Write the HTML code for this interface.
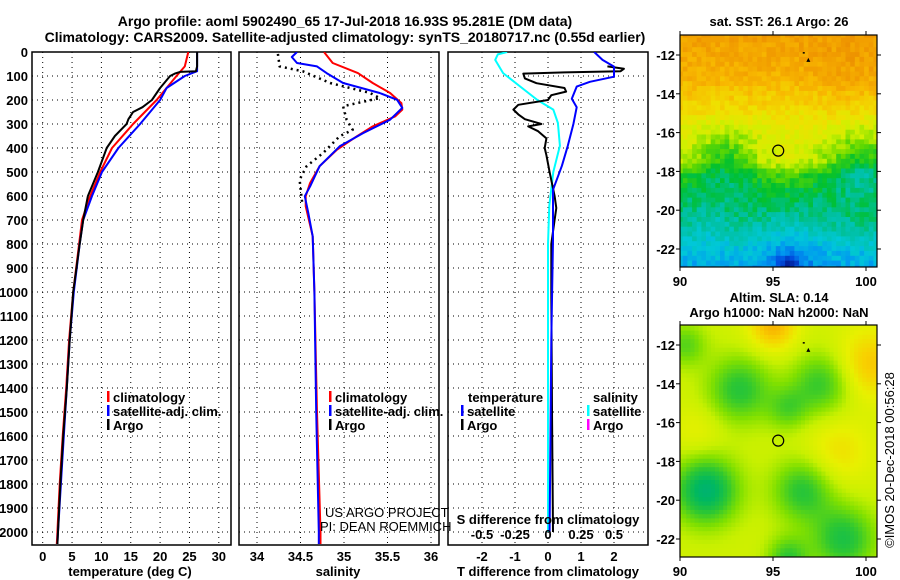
<!DOCTYPE html>
<html><head><meta charset="utf-8">
<style>
html,body{margin:0;padding:0;background:#fff;}
svg{display:block;font-family:"Liberation Sans",Arial,sans-serif;}
.b{font-weight:bold;font-size:13px;}
</style></head>
<body>
<svg id="fig" width="900" height="580" viewBox="0 0 900 580" xmlns="http://www.w3.org/2000/svg">
<text x="345" y="26" text-anchor="middle" font-weight="bold" font-size="14">Argo profile: aoml 5902490_65 17-Jul-2018 16.93S 95.281E (DM data)</text>
<text x="345" y="42" text-anchor="middle" font-weight="bold" font-size="14">Climatology: CARS2009. Satellite-adjusted climatology: synTS_20180717.nc (0.55d earlier)</text>
<g id="root"></g>
</svg>
<script>
// ---------- profile data ----------
const tDepthArgo = [0,60,80,83,90,100,150,200,230,250,280,300,350,400,500,600,700,800,1000,1200,1400,1600,1800,2000,2050];
const tArgo      = [26.3,26.3,26.1,23.4,22.5,21.7,20.0,18.6,17.0,15.4,14.6,14.3,12.3,10.9,9.4,7.7,6.9,6.3,5.2,4.6,4.1,3.5,3.0,2.6,2.5];
const tDepthClim = [0,60,100,200,300,400,500,600,700,800,1000,1200,1400,1600,1800,2000,2050];
const tClim      = [24.8,24.2,22.8,19.4,15.4,11.8,9.8,8.1,6.7,6.2,5.2,4.5,4.0,3.4,2.9,2.5,2.4];
const tDepthSat  = [0,80,100,150,200,300,400,500,600,700,800,1000,1200,1400,1600,1800,2000,2050];
const tSat       = [26.3,26.3,24.2,21.1,20.0,16.6,12.9,10.1,8.4,6.9,6.3,5.3,4.6,4.1,3.6,3.1,2.6,2.5];

const sDepthClim = [0,46,88,129,171,213,240,268,310,351,407,476,546,601,643,768,1000,1500,2000,2050];
const sClim      = [34.77,34.87,35.16,35.33,35.53,35.66,35.67,35.59,35.33,35.15,34.92,34.72,34.61,34.56,34.56,34.64,34.66,34.69,34.73,34.73];
const sDepthSat  = [0,21,46,60,88,129,171,199,233,282,338,393,476,560,601,671,768,1000,1500,2000,2050];
const sSat       = [34.46,34.40,34.46,34.69,34.80,34.99,35.41,35.61,35.67,35.53,35.22,34.95,34.72,34.61,34.55,34.59,34.64,34.66,34.68,34.71,34.71];
const sDepthArgo = [8,60,81,129,171,192,226,282,324,351,421,476,532,601,629];
const sArgo      = [34.24,34.26,34.53,34.84,35.30,35.41,34.99,35.03,35.10,34.95,34.76,34.57,34.49,34.51,34.52];

const dDepthArgoT = [60,70,80,85,90,110,130,150,165,180,200,220,240,260,280,300,310,330,360,400,430,500,600,650,700,800,1000,1500,2000];
const dArgoT      = [1.8,2.3,2.2,0.5,-0.75,-0.7,-0.35,0.5,0.55,0.1,0,-0.9,-1.05,-0.9,-0.7,-0.2,-0.6,-0.3,-0.05,-0.1,-0.05,0.05,0.2,0.25,0.2,0.1,0.1,0.12,0.15];
const dDepthSatT = [0,33,61,103,124,144,195,230,300,391,474,574,783,1200,2000];
const dSatT      = [1.4,1.65,2.0,2.0,1.27,0.87,0.72,0.87,0.77,0.6,0.42,0.15,0.15,0.1,0.05];
const dDepthSatS = [0,10,33,88,144,200,240,296,391,500,640,800,2000];
const dSatS      = [-0.31,-0.38,-0.40,-0.34,-0.21,-0.08,0.04,0.075,0.09,0.04,0.01,0,0];

const tTicks = [0,5,10,15,20,25,30];
const sTicks = [34,34.5,35,35.5,36];
const dTTicks = [-2,-1,0,1,2];
const dSLabels = ['-0.5','-0.25','0','0.25','0.5'];
const depthTicks = [0,100,200,300,400,500,600,700,800,900,1000,1100,1200,1300,1400,1500,1600,1700,1800,1900,2000];
const latTicks = [-12,-14,-16,-18,-20,-22];
const lonTicks = [90,95,100];

// ---------- helpers ----------
const NS='http://www.w3.org/2000/svg';
const root=document.getElementById('root');
function mk(tag,attrs,parent){const e=document.createElementNS(NS,tag);for(const k in attrs)e.setAttribute(k,attrs[k]);(parent||root).appendChild(e);return e;}
function txt(x,y,s,extra,parent){const e=mk('text',Object.assign({x:x,y:y},extra||{}),parent);e.textContent=s;return e;}

const PT=52, PB=545;
const yD=d=>PT+d*0.24;
const panels=[
 {name:'temperature-panel',l:32,r:231,x:v=>42.7+v*5.87},
 {name:'salinity-panel',l:239,r:439,x:v=>257+(v-34)*87},
 {name:'difference-panel',l:448,r:648,x:v=>548+v*33}
];
const xS=v=>548+v*4*33;

panels.forEach((p,pi)=>{
  const g=mk('g',{});
  
  
  const cp=mk('clipPath',{id:'cp'+pi},g);
  mk('rect',{x:p.l,y:PT,width:p.r-p.l,height:PB-PT},cp);
  p.g=g;
  depthTicks.forEach(d=>{const ln=mk('line',{x1:p.l,x2:p.r,y1:yD(d),y2:yD(d),stroke:'#000','stroke-width':1,'stroke-dasharray':'1,4'},g);
    });
  const vt = pi==0?tTicks:(pi==1?sTicks:dTTicks);
  vt.forEach(v=>{const ln=mk('line',{x1:p.x(v),x2:p.x(v),y1:PT,y2:PB,stroke:'#000','stroke-width':1,'stroke-dasharray':'1,4'},g);
    
    const t=txt(p.x(v),561,String(v),{'text-anchor':'middle','class':'b'},g);
    });
  const fr=mk('rect',{x:p.l,y:PT,width:p.r-p.l,height:PB-PT,fill:'none',stroke:'#000','stroke-width':1.5},g);
  
});
depthTicks.forEach(d=>{const t=txt(28,yD(d)+5,String(d),{'text-anchor':'end','class':'b'});
  });

function line(p,depths,vals,xf,color,name,dash,w){
  const pts=depths.map((d,i)=>xf(vals[i]).toFixed(1)+','+yD(d).toFixed(1)).join(' ');
  const a={points:pts,fill:'none',stroke:color,'stroke-width':w||2,'clip-path':'url(#cp'+panels.indexOf(p)+')','stroke-linejoin':'round'};
  if(dash)a['stroke-dasharray']=dash;
  const e=mk('polyline',a,p.g);
  
  
}
const P=panels;
line(P[0],tDepthClim,tClim,P[0].x,'#f00','temp-climatology-line');
line(P[0],tDepthSat,tSat,P[0].x,'#00f','temp-satellite-line');
line(P[0],tDepthArgo,tArgo,P[0].x,'#000','temp-argo-line');
line(P[1],sDepthArgo,sArgo,P[1].x,'#000','salinity-argo-line','2,4',2.5);
line(P[1],sDepthClim,sClim,P[1].x,'#f00','salinity-climatology-line');
line(P[1],sDepthSat,sSat,P[1].x,'#00f','salinity-satellite-line');
line(P[2],dDepthSatS,dSatS,xS,'#0ff','s-diff-satellite-line');
line(P[2],dDepthArgoT,dArgoT,P[2].x,'#000','t-diff-argo-line');
line(P[2],dDepthSatT,dSatT,P[2].x,'#00f','t-diff-satellite-line');

function leg(x,y,color,label,name){
  const g=mk('g',{});
  mk('rect',{x:x,y:y-11,width:2.5,height:11,fill:color},g);
  if(label)txt(x+6,y,label,{'class':'b'},g);
}
leg(107,402,'#f00','climatology','legend-climatology');
leg(107,416,'#00f','satellite-adj. clim.','legend-satellite');
leg(107,430,'#000','Argo','legend-argo');
leg(329,402,'#f00','climatology','legend-sal-climatology');
leg(329,416,'#00f','satellite-adj. clim.','legend-sal-satellite');
leg(329,430,'#000','Argo','legend-sal-argo');
txt(468,402,'temperature',{'class':'b',});
leg(461,416,'#00f','satellite','legend-t-satellite');
leg(461,430,'#000','Argo','legend-t-argo');
txt(593,402,'salinity',{'class':'b',});
leg(587,416,'#0ff','satellite','legend-s-satellite');
leg(587,430,'#f0f','Argo','legend-s-argo');
txt(325,517,'US ARGO PROJECT',{'font-size':13,});
txt(320,531,'PI: DEAN ROEMMICH',{'font-size':13,});
txt(548,524,'S difference from climatology',{'text-anchor':'middle','class':'b',});
dSLabels.forEach((s,i)=>{const t=txt(P[2].x(dTTicks[i]),539,s,{'text-anchor':'middle','class':'b'});
  });
txt(130,576,'temperature (deg C)',{'text-anchor':'middle','class':'b',});
txt(338,576,'salinity',{'text-anchor':'middle','class':'b',});
txt(548,576,'T difference from climatology',{'text-anchor':'middle','class':'b',});

// ---------- maps (image texture) ----------
function gs(lon,lat,cx,cy,r){const d=((lon-cx)**2+(lat-cy)**2)/(r*r);return Math.exp(-d);}
function hash(i,j){const s=Math.sin(i*12.9898+j*78.233)*43758.5453;return s-Math.floor(s);}
function cmap(stops,v){
  if(v<=stops[0][0]){const l=stops[0][1];return 'rgb('+l.join(',')+')';}
  for(let i=1;i<stops.length;i++){if(v<=stops[i][0]){const a=stops[i-1],b=stops[i],f=(v-a[0])/(b[0]-a[0]);
    const c1=a[1],c2=b[1];const r=[0,1,2].map(k=>Math.round(c1[k]+(c2[k]-c1[k])*f));return 'rgb('+r.join(',')+')';}}
  const l=stops[stops.length-1][1];return 'rgb('+l.join(',')+')';
}
function toStops(a){return a.map(s=>[s[0],[parseInt(s[1].substr(1,2),16),parseInt(s[1].substr(3,2),16),parseInt(s[1].substr(5,2),16)]]);}
const sstStops=toStops([[0.1,'#001890'],[0.18,'#0050e0'],[0.26,'#0098f0'],[0.33,'#00c8d8'],[0.4,'#00c0a0'],[0.47,'#00c030'],[0.55,'#60d800'],[0.62,'#d0f000'],[0.7,'#f0e000'],[0.78,'#f8b800'],[0.86,'#f09800'],[0.94,'#e07800']]);
const slaStops=toStops([[0.2,'#00a890'],[0.3,'#00b860'],[0.4,'#30c830'],[0.5,'#80e000'],[0.58,'#c8f000'],[0.66,'#e8f000'],[0.74,'#f8d000'],[0.84,'#f8a000']]);
function interp(xs,ys,x){if(x>=xs[0])return ys[0];for(let i=1;i<xs.length;i++){if(x>=xs[i]){const f=(x-xs[i-1])/(xs[i]-xs[i-1]);return ys[i-1]+(ys[i]-ys[i-1])*f;}}return ys[ys.length-1];}
const latB=[-11,-13,-14.5,-15.5,-16.5,-17.5,-18.2,-19,-20,-21,-22,-23];
const valB=[0.84,0.8,0.73,0.67,0.64,0.6,0.5,0.46,0.44,0.4,0.33,0.28];
function sst(lon,lat){return interp(latB,valB,lat)-0.1*gs(lon,lat,92.5,-17.2,1.5)-0.12*gs(lon,lat,99.8,-17.5,1.6)+0.04*gs(lon,lat,95.5,-17.8,1.3)-0.13*gs(lon,lat,95.8,-22.9,0.6)+0.03*gs(lon,lat,99,-13,2)-0.04*gs(lon,lat,91.5,-20.5,1.2)-0.06*gs(lon,lat,96,-22,2);}
function sla(lon,lat){return 0.6-0.22*gs(lon,lat,93.2,-14.3,1.7)-0.2*gs(lon,lat,97.6,-14,1.6)-0.14*gs(lon,lat,95.8,-15.3,1.1)-0.33*gs(lon,lat,91.4,-19.5,1.7)-0.22*gs(lon,lat,96.6,-19.5,1.6)-0.24*gs(lon,lat,98.8,-22,1.7)-0.2*gs(lon,lat,95.8,-23,1.1)-0.15*gs(lon,lat,90.3,-12,1.1)+0.2*gs(lon,lat,95,-11,1.3)+0.16*gs(lon,lat,100.2,-13,1.8)+0.1*gs(lon,lat,98.5,-17.5,1.8)+0.06*gs(lon,lat,91,-16.5,1.4);}

function drawMap(id,top,bot,field,stops,step,noise,name){
  const L=680,R=877;
  const xL=lon=>680+(lon-90)*18.6;
  const yL=lat=>(top+20)+(-12-lat)*19.4;
  const g=mk('g',{});
  const cp=mk('clipPath',{id:id},g);mk('rect',{x:L,y:top,width:R-L,height:bot-top},cp);
  const cg=mk('g',{'clip-path':'url(#'+id+')'},g);
  let i=0;
  for(let lon=89.9;lon<100.8;lon+=step){let j=0;
    for(let lat=-10.6;lat>-23.2;lat-=step){
      const v=field(lon+step/2,lat-step/2)+(hash(i,j)-0.5)*noise;
      mk('rect',{x:xL(lon).toFixed(1),y:yL(lat).toFixed(1),width:(step*18.6+0.6).toFixed(1),height:(step*19.4+0.6).toFixed(1),fill:cmap(stops,v)},cg);j++;}
    i++;}
  mk('rect',{x:L,y:top,width:R-L,height:bot-top,fill:'none',stroke:'#000','stroke-width':1.2},g);
  latTicks.forEach(la=>{mk('line',{x1:L-4,x2:L,y1:yL(la),y2:yL(la),stroke:'#000'},g);mk('line',{x1:R,x2:R+4,y1:yL(la),y2:yL(la),stroke:'#000'},g);
    const t=txt(L-5,yL(la)+5,String(la),{'text-anchor':'end','class':'b'},g);});
  lonTicks.forEach(lo=>{mk('line',{x1:xL(lo),x2:xL(lo),y1:top-4,y2:top,stroke:'#000'},g);mk('line',{x1:xL(lo),x2:xL(lo),y1:bot,y2:bot+4,stroke:'#000'},g);
    const t=txt(xL(lo),bot+19,String(lo),{'text-anchor':'middle','class':'b','font-size':14},g);});
  const c=mk('circle',{cx:xL(95.28),cy:yL(-16.93),r:5.5,fill:'none',stroke:'#000','stroke-width':1.2},g);
  
  mk('polygon',{points:(xL(96.9)-2)+','+(yL(-12.25)+2)+' '+(xL(96.9)+2)+','+(yL(-12.25)+2)+' '+xL(96.9)+','+(yL(-12.25)-2)},g);
  mk('rect',{x:xL(96.6),y:yL(-11.85),width:2,height:1.5},g);
}
drawMap('cpm1',35,267,sst,sstStops,0.25,0.07,'sst-map');
drawMap('cpm2',325,557,sla,slaStops,0.22,0.0,'sla-map');
txt(779,26,'sat. SST: 26.1 Argo: 26',{'text-anchor':'middle','class':'b',});
txt(779,302,'Altim. SLA: 0.14',{'text-anchor':'middle','class':'b',});
txt(779,317,'Argo h1000: NaN h2000: NaN',{'text-anchor':'middle','class':'b',});
txt(0,0,'\u00A9IMOS 20-Dec-2018 00:56:28',{'text-anchor':'middle','font-size':13,transform:'translate(894,460) rotate(-90)',});
</script>
</body></html>
